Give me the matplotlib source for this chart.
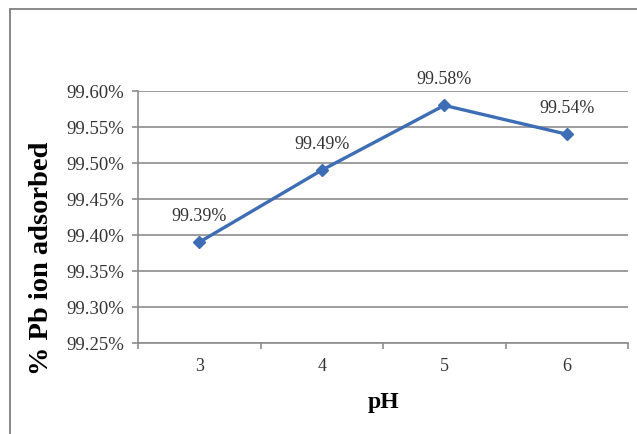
import matplotlib.pyplot as plt
from matplotlib.patches import Rectangle

ph_labels = ["3", "4", "5", "6"]
adsorbed = [99.39, 99.49, 99.58, 99.54]
y_ticks = [99.25, 99.30, 99.35, 99.40, 99.45, 99.50, 99.55, 99.60]

plt.rcParams["font.family"] = ["Liberation Serif", "DejaVu Serif"]

W, H = 637, 435
fig = plt.figure(figsize=(W / 100, H / 100), dpi=100)
# plot area in pixels: x 138..628, y 92..344
ax = fig.add_axes([138 / W, 1 - 344 / H, 490 / W, 252 / H])

# chart border (Excel-style frame)
fig.patches.append(Rectangle((10 / W, -0.1), 2, 1 - 10 / H + 0.1, transform=fig.transFigure,
                             fill=False, edgecolor="#7f7f7f", linewidth=1.3))

grey = "#8c8c8c"
x = list(range(len(ph_labels)))
ax.plot(x, adsorbed, color="#3d6db5", linewidth=2.4, marker="D", markersize=6.5,
        markerfacecolor="#3d6db5", markeredgecolor="#3d6db5")
for xi, v in zip(x, adsorbed):
    ax.annotate(f"{v:.2f}%", (xi, v), xytext=(0, 19.5), textcoords="offset points",
                ha="center", va="center", fontsize=13, color="#333333")

ax.set_xlim(-0.5, len(ph_labels) - 0.5)
ax.set_ylim(y_ticks[0], y_ticks[-1])
ax.set_yticks(y_ticks)
ax.set_yticklabels([f"{t:.2f}%" for t in y_ticks], fontsize=13.5, color="#333333")
ax.set_xticks(x)
ax.set_xticklabels(ph_labels, fontsize=13, color="#333333")
ax.set_xticks([i - 0.5 for i in range(len(ph_labels) + 1)], minor=True)
ax.tick_params(axis="x", which="major", length=0, pad=10)
ax.tick_params(axis="x", which="minor", length=4, color=grey, width=1.2, direction="out")
ax.tick_params(axis="y", length=4, color=grey, width=1.2, direction="out", pad=6)

ax.grid(axis="y", color=grey, linewidth=1.2)
ax.set_axisbelow(True)
for s in ["top", "right"]:
    ax.spines[s].set_visible(False)
for s in ["left", "bottom"]:
    ax.spines[s].set_color(grey)
    ax.spines[s].set_linewidth(1.2)

ax.set_xlabel("pH", fontsize=17, fontweight="bold", labelpad=12)
ax.set_ylabel("% Pb ion adsorbed", fontsize=20.5, fontweight="bold")
ax.yaxis.set_label_coords(54 / W, 1 - 258 / H, transform=fig.transFigure)

fig.savefig("out.png", dpi=100)
